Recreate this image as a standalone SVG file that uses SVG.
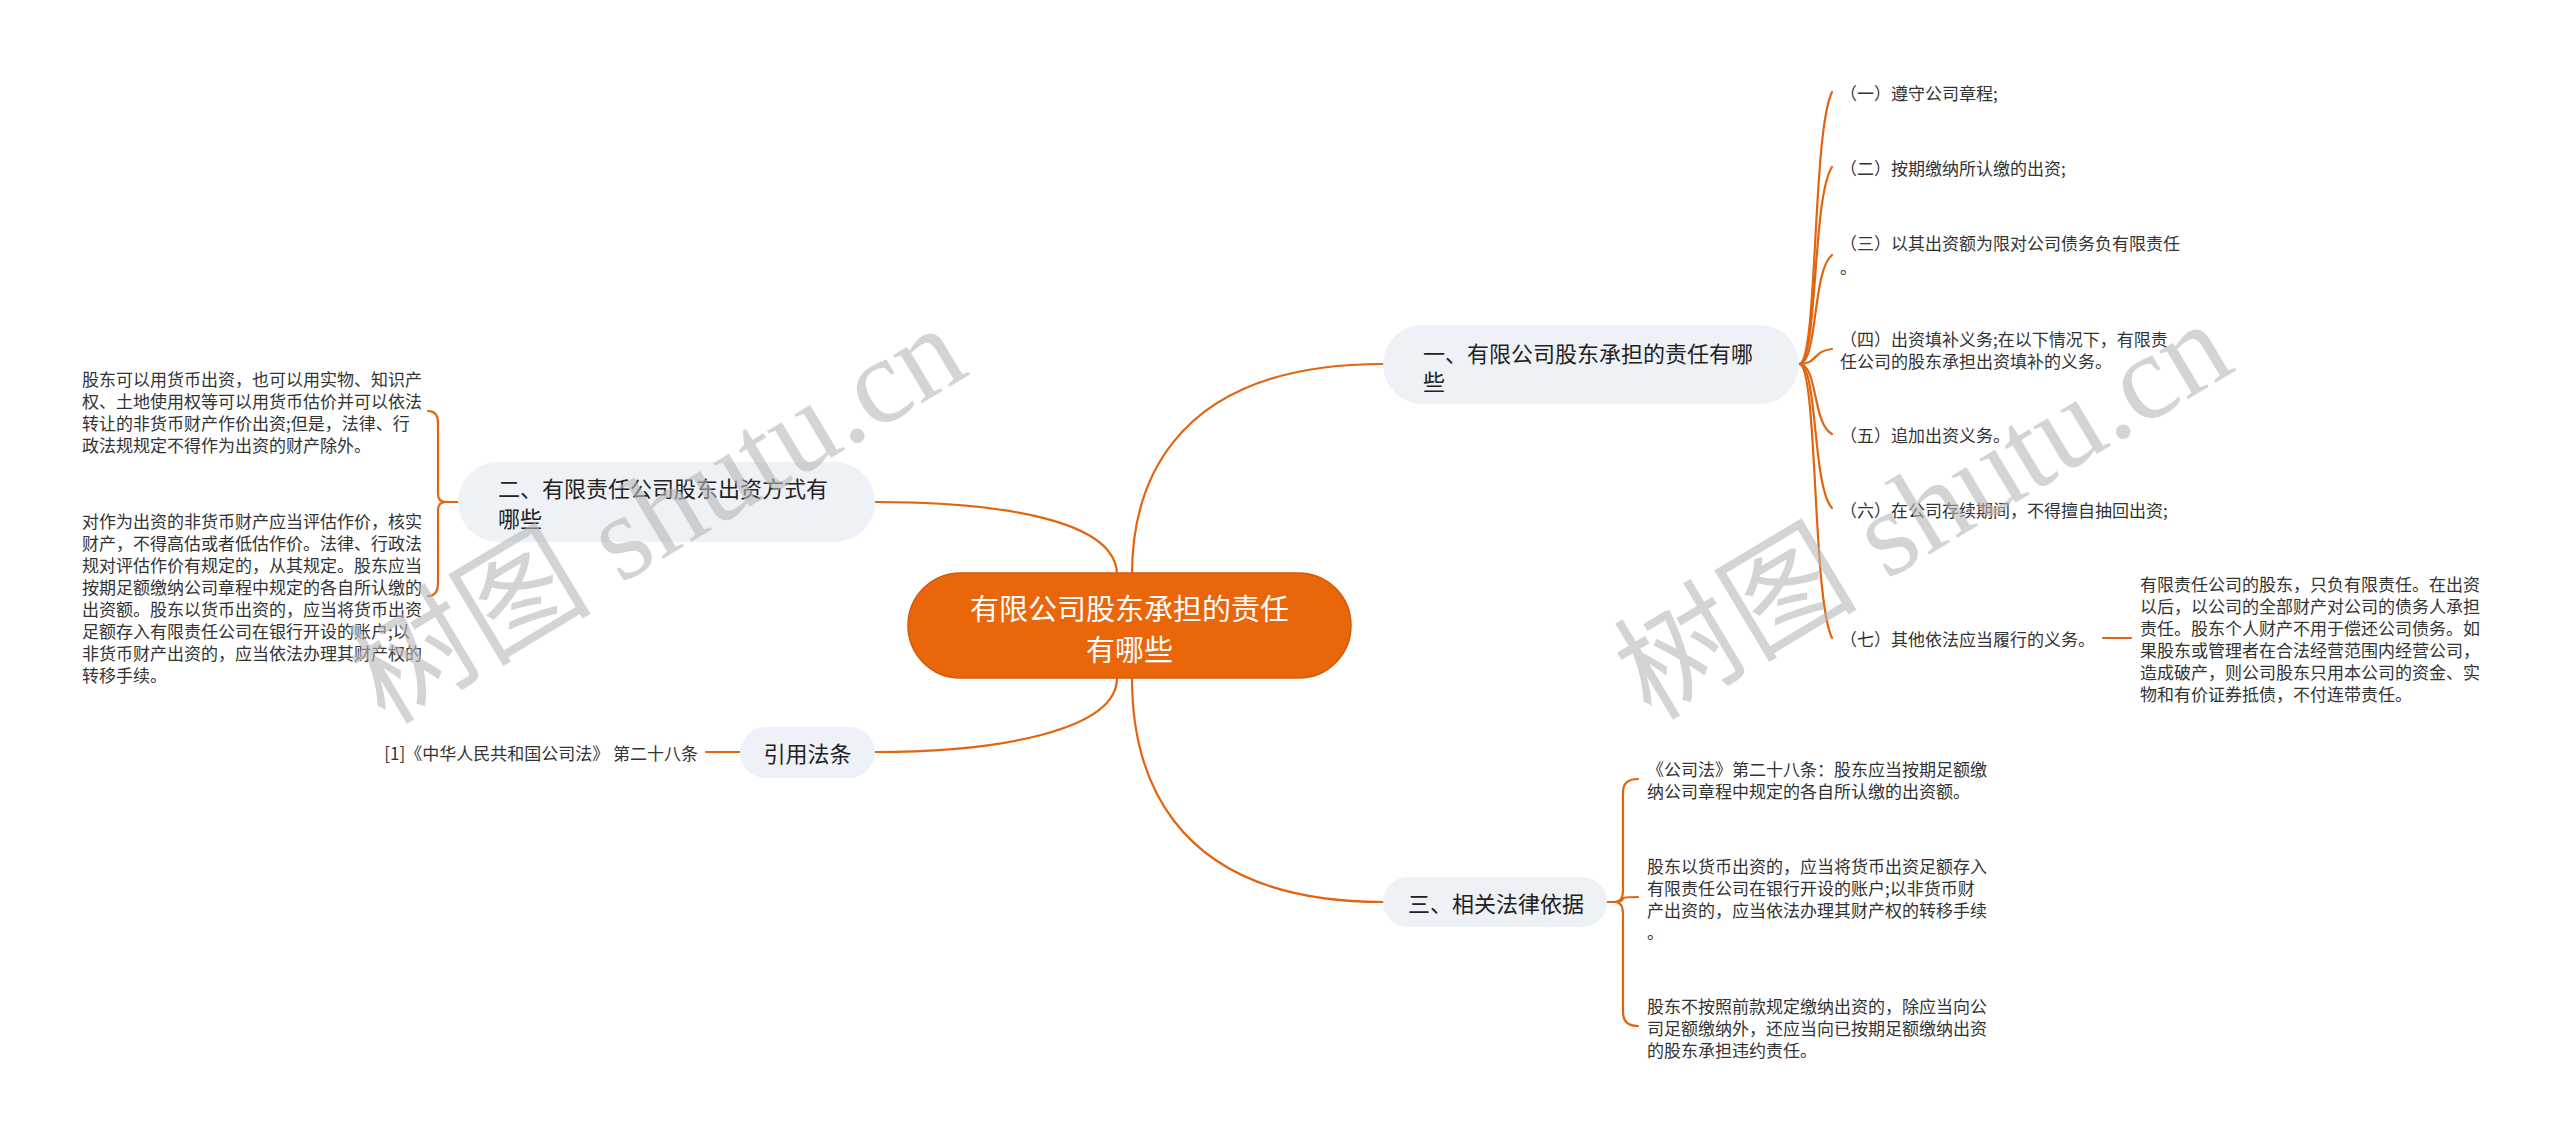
<svg xmlns="http://www.w3.org/2000/svg" width="2560" height="1139" viewBox="0 0 2560 1139">
<style>
.edge{fill:none;stroke:#E2640F;stroke-width:2.2;stroke-linecap:round}
.sub{fill:#EEF1F5}
.subt{font-family:"Noto Sans CJK SC","Noto Sans",sans-serif;font-size:22px;fill:#222;dominant-baseline:central}
.leaf{font-family:"Noto Sans CJK SC","Noto Sans",sans-serif;font-size:17px;fill:#333;dominant-baseline:central}
.wm{font-family:"Liberation Serif","Noto Sans CJK SC",serif;font-size:122px;fill:#b8b8b8;opacity:0.6}
</style>
<rect width="2560" height="1139" fill="#ffffff"/>
<g id="connectors">
<path class="edge" d="M1132,575 C1132,500 1160,364 1383,364"/>
<path class="edge" d="M1132,678 C1132,760 1160,902 1383,902"/>
<path class="edge" d="M1117,575 C1117,520 1000,502 875,502"/>
<path class="edge" d="M1117,678 C1117,730 1000,752 875,752"/>
<path class="edge" d="M740,752 H706"/>
<path class="edge" d="M458,502 H446 Q438,502 438,494 V423 Q438,411 428,411"/>
<path class="edge" d="M458,502 H446 Q438,502 438,510 V583 Q438,596 428,596"/>
<path class="edge" d="M1799,364 C1818,364 1812,133 1832,92"/>
<path class="edge" d="M1799,364 C1818,364 1812,197 1832,167"/>
<path class="edge" d="M1799,364 C1818,364 1812,271 1832,255"/>
<path class="edge" d="M1799,364 C1818,364 1812,351 1832,349"/>
<path class="edge" d="M1799,364 C1818,364 1812,423 1832,434"/>
<path class="edge" d="M1799,364 C1818,364 1812,486 1832,508"/>
<path class="edge" d="M1799,364 C1818,364 1812,597 1832,638"/>
<path class="edge" d="M2103,638 H2131"/>
<path class="edge" d="M1607,902 H1615 Q1623,902 1623,890 V792 Q1623,779 1638,779"/>
<path class="edge" d="M1607,902 H1615 Q1623,902 1623,898 Q1623,897 1638,897"/>
<path class="edge" d="M1607,902 H1615 Q1623,902 1623,914 V1012 Q1623,1026 1638,1026"/>
</g>
<g id="root">
<rect x="908" y="573" width="443" height="105" rx="52.5" fill="#EA660B" stroke="#D45A08" stroke-width="1.5"/>
<text x="1129.5" y="607" text-anchor="middle" style="font-family:'Noto Sans CJK SC',sans-serif;font-size:29px;fill:#fff;dominant-baseline:central">有限公司股东承担的责任</text>
<text x="1129.5" y="648" text-anchor="middle" style="font-family:'Noto Sans CJK SC',sans-serif;font-size:29px;fill:#fff;dominant-baseline:central">有哪些</text>
</g>
<g id="n1">
<rect class="sub" x="1383" y="325" width="416" height="79" rx="39.5"/>
<text class="subt" x="1423" y="352">一、有限公司股东承担的责任有哪</text>
<text class="subt" x="1423" y="380">些</text>
</g>
<g id="n1-1"><text class="leaf" x="1840" y="92">（一）遵守公司章程;</text></g>
<g id="n1-2"><text class="leaf" x="1840" y="167">（二）按期缴纳所认缴的出资;</text></g>
<g id="n1-3"><text class="leaf" x="1840" y="242">（三）以其出资额为限对公司债务负有限责任</text><text class="leaf" x="1840" y="266">。</text></g>
<g id="n1-4"><text class="leaf" x="1840" y="338">（四）出资填补义务;在以下情况下，有限责</text><text class="leaf" x="1840" y="360">任公司的股东承担出资填补的义务。</text></g>
<g id="n1-5"><text class="leaf" x="1840" y="434">（五）追加出资义务。</text></g>
<g id="n1-6"><text class="leaf" x="1840" y="509">（六）在公司存续期间，不得擅自抽回出资;</text></g>
<g id="n1-7"><text class="leaf" x="1840" y="638">（七）其他依法应当履行的义务。</text></g>
<g id="n1-7-1">
<text class="leaf" x="2140" y="583">有限责任公司的股东，只负有限责任。在出资</text>
<text class="leaf" x="2140" y="605">以后，以公司的全部财产对公司的债务人承担</text>
<text class="leaf" x="2140" y="627">责任。股东个人财产不用于偿还公司债务。如</text>
<text class="leaf" x="2140" y="649">果股东或管理者在合法经营范围内经营公司，</text>
<text class="leaf" x="2140" y="671">造成破产，则公司股东只用本公司的资金、实</text>
<text class="leaf" x="2140" y="693">物和有价证券抵债，不付连带责任。</text>
</g>
<g id="n2">
<rect class="sub" x="458" y="462" width="417" height="80" rx="40"/>
<text class="subt" x="498" y="487">二、有限责任公司股东出资方式有</text>
<text class="subt" x="498" y="517">哪些</text>
</g>
<g id="n2-1">
<text class="leaf" x="82" y="378">股东可以用货币出资，也可以用实物、知识产</text>
<text class="leaf" x="82" y="400">权、土地使用权等可以用货币估价并可以依法</text>
<text class="leaf" x="82" y="422">转让的非货币财产作价出资;但是，法律、行</text>
<text class="leaf" x="82" y="444">政法规规定不得作为出资的财产除外。</text>
</g>
<g id="n2-2">
<text class="leaf" x="82" y="520">对作为出资的非货币财产应当评估作价，核实</text>
<text class="leaf" x="82" y="542">财产，不得高估或者低估作价。法律、行政法</text>
<text class="leaf" x="82" y="564">规对评估作价有规定的，从其规定。股东应当</text>
<text class="leaf" x="82" y="586">按期足额缴纳公司章程中规定的各自所认缴的</text>
<text class="leaf" x="82" y="608">出资额。股东以货币出资的，应当将货币出资</text>
<text class="leaf" x="82" y="630">足额存入有限责任公司在银行开设的账户;以</text>
<text class="leaf" x="82" y="652">非货币财产出资的，应当依法办理其财产权的</text>
<text class="leaf" x="82" y="674">转移手续。</text>
</g>
<g id="n3">
<rect class="sub" x="740" y="727" width="135" height="51" rx="25.5"/>
<text class="subt" x="807.5" y="752" text-anchor="middle">引用法条</text>
</g>
<g id="n3-1"><text class="leaf" x="698" y="752" text-anchor="end">[1]《中华人民共和国公司法》 第二十八条</text></g>
<g id="n4">
<rect class="sub" x="1383" y="877" width="224" height="50" rx="25"/>
<text class="subt" x="1408" y="902">三、相关法律依据</text>
</g>
<g id="n4-1">
<text class="leaf" x="1647" y="768">《公司法》第二十八条：股东应当按期足额缴</text>
<text class="leaf" x="1647" y="790">纳公司章程中规定的各自所认缴的出资额。</text>
</g>
<g id="n4-2">
<text class="leaf" x="1647" y="865">股东以货币出资的，应当将货币出资足额存入</text>
<text class="leaf" x="1647" y="887">有限责任公司在银行开设的账户;以非货币财</text>
<text class="leaf" x="1647" y="909">产出资的，应当依法办理其财产权的转移手续</text>
<text class="leaf" x="1647" y="931">。</text>
</g>
<g id="n4-3">
<text class="leaf" x="1647" y="1005">股东不按照前款规定缴纳出资的，除应当向公</text>
<text class="leaf" x="1647" y="1027">司足额缴纳外，还应当向已按期足额缴纳出资</text>
<text class="leaf" x="1647" y="1049">的股东承担违约责任。</text>
</g>
<g id="watermark">
<text class="wm" x="0" y="0" text-anchor="middle" dominant-baseline="central" transform="translate(657,514) rotate(-31)">树图 shutu.cn</text>
<text class="wm" x="0" y="0" text-anchor="middle" dominant-baseline="central" transform="translate(1923,510) rotate(-31)">树图 shutu.cn</text>
</g>
</svg>
